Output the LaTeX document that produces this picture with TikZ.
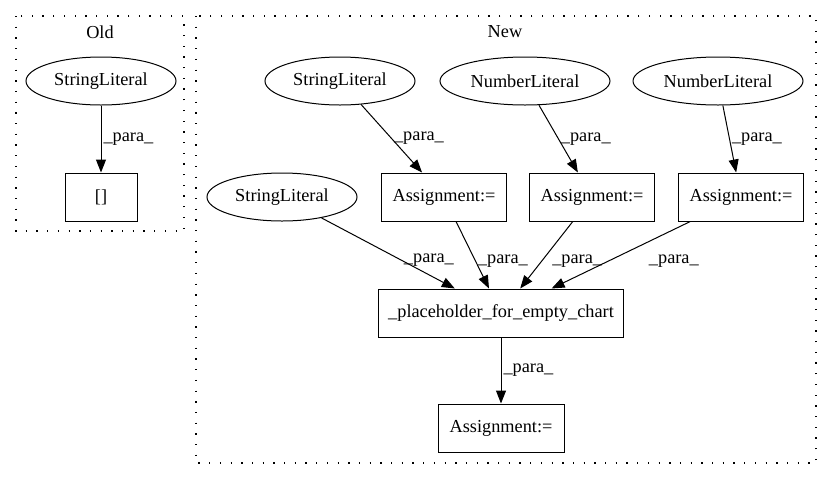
\documentclass[tikz,border=0pt]{standalone}
\usepackage{fontspec}
\setmainfont{Liberation Serif}
\usetikzlibrary{arrows.meta,shapes.geometric}

\tikzset{
  lit/.style={ellipse, draw, line width=1pt, minimum width=150pt, minimum height=48pt, inner sep=0pt},
  op/.style={rectangle, draw, line width=1pt, minimum height=48pt, inner sep=0pt},
  link/.style={-{Triangle[length=13pt,width=10pt]}, line width=1pt},
  lbl/.style={anchor=west, inner sep=2pt},
  cluster/.style={draw, line width=1.3pt, dash pattern=on 1.3pt off 9.4pt}
}

\begin{document}
\begin{tikzpicture}[x=1pt, y=-1pt, font=\fontsize{18.3pt}{20pt}\selectfont]

  \useasboundingbox (0,0) rectangle (832,480);

  % Clusters
  \draw[cluster] (16,16) rectangle (184,231);
  \draw[cluster] (196,16) rectangle (816,463);
  \node (old) at (100,32) {Old};
  \node (new) at (505,32) {New};

  % Define nodes
  \node[lit] (s0) at (101,81) {StringLiteral};
  \node[op, minimum width=72pt] (idx) at (101,197) {[]};

  \node[lit] (s1) at (340,81) {StringLiteral};
  \node[lit, minimum width=170pt] (n1) at (525,81) {NumberLiteral};
  \node[lit, minimum width=170pt] (n2) at (718,81) {NumberLiteral};

  \node[lit] (s2) at (282,197) {StringLiteral};
  \node[op, minimum width=125pt] (a1) at (444,197) {Assignment:=};
  \node[op, minimum width=125pt] (a2) at (592,197) {Assignment:=};
  \node[op, minimum width=125pt] (a3) at (741,197) {Assignment:=};

  \node[op, minimum width=245pt] (chart) at (501,313) {\_placeholder\_for\_empty\_chart};
  \node[op, minimum width=126pt] (out) at (501,428) {Assignment:=};

  % Connect the nodes
  \draw[link] (s0) -- (idx) node[lbl, midway] {\_para\_};
  \draw[link] (s1) -- (a1) node[lbl, midway] {\_para\_};
  \draw[link] (n1) -- (a2) node[lbl, midway] {\_para\_};
  \draw[link] (n2) -- (a3) node[lbl, midway] {\_para\_};

  \draw[link] (s2) -- (chart) node[lbl, pos=.6] {\_para\_};
  \draw[link] (a1) -- (chart) node[lbl, pos=.59] {\_para\_};
  \draw[link] (a2) -- (chart) node[lbl, pos=.59, xshift=8pt] {\_para\_};
  \draw[link] (a3) -- (chart) node[lbl, pos=.59, xshift=38pt] {\_para\_};

  \draw[link] (chart) -- (out) node[lbl, midway] {\_para\_};

\end{tikzpicture}
\end{document}
